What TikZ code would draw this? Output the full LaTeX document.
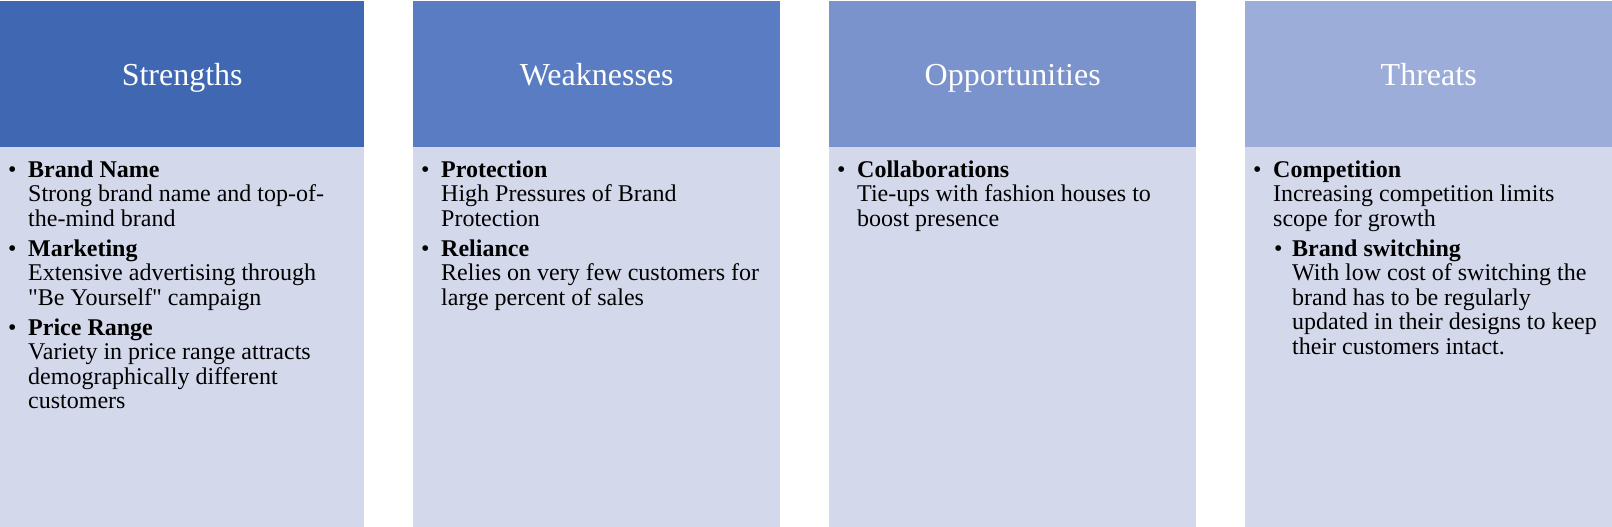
\documentclass[tikz,border=0pt]{standalone}
\usepackage{fontspec}
\setmainfont{Liberation Serif}[Ligatures=TeXOff]
\definecolor{cS}{HTML}{3F67B2}
\definecolor{cW}{HTML}{5A7CC3}
\definecolor{cO}{HTML}{7A93CC}
\definecolor{cT}{HTML}{9DADD9}
\definecolor{cB}{HTML}{D3D8EB}
\newcommand\bodyfont{\fontsize{24}{24.5}\selectfont}
\newcommand\itemA[1]{\par\hangindent=20pt\hangafter=1\noindent\makebox[20pt][l]{\textbullet}\textbf{#1}\newline}
\newcommand\itemB[1]{\par\hangindent=39pt\hangafter=1\noindent\hspace*{21pt}\makebox[18pt][l]{\textbullet}\textbf{#1}\newline}
\newcommand\colbody[1]{\parbox[t]{360pt}{\bodyfont\setlength\parskip{5.5pt}#1}}
\tikzset{
  hdr/.style={rectangle, draw=none, anchor=north west, minimum width=367pt, minimum height=146pt, inner sep=0pt, text=white, text height=23pt, text depth=0pt, font=\fontsize{32}{38}\selectfont},
  bodybox/.style={rectangle, draw=none, fill=cB, anchor=north west, minimum width=367pt, minimum height=380pt, inner sep=0pt},
  txt/.style={anchor=base west, inner sep=0pt, text=black}
}
\begin{document}
\begin{tikzpicture}[x=1pt,y=-1pt]
\useasboundingbox (0,0) rectangle (1612,527);
% Strengths
\node[hdr, fill=cS, minimum width=364pt] (sH) at (0,1) {Strengths};
\node[bodybox, minimum width=364pt] (sB) at (0,147) {};
\node[txt] (sT) at (8,177) {\colbody{%
\itemA{Brand Name}Strong brand name and top-of-\newline the-mind brand
\itemA{Marketing}Extensive advertising through\newline "Be Yourself" campaign
\itemA{Price Range}Variety in price range attracts\newline demographically different\newline customers\par}};
% Weaknesses
\node[hdr, fill=cW] (wH) at (413,1) {Weaknesses};
\node[bodybox] (wB) at (413,147) {};
\node[txt] (wT) at (421,177) {\colbody{%
\itemA{Protection}High Pressures of Brand\newline Protection
\itemA{Reliance}Relies on very few customers for\newline large percent of sales\par}};
% Opportunities
\node[hdr, fill=cO] (oH) at (829,1) {Opportunities};
\node[bodybox] (oB) at (829,147) {};
\node[txt] (oT) at (837,177) {\colbody{%
\itemA{Collaborations}Tie-ups with fashion houses to\newline boost presence\par}};
% Threats
\node[hdr, fill=cT] (tH) at (1245,1) {Threats};
\node[bodybox] (tB) at (1245,147) {};
\node[txt] (tT) at (1253,177) {\colbody{%
\itemA{Competition}Increasing competition limits\newline scope for growth
\itemB{Brand switching}With low cost of switching the\newline brand has to be regularly\newline updated in their designs to keep\newline their customers intact.\par}};
\end{tikzpicture}
\end{document}
